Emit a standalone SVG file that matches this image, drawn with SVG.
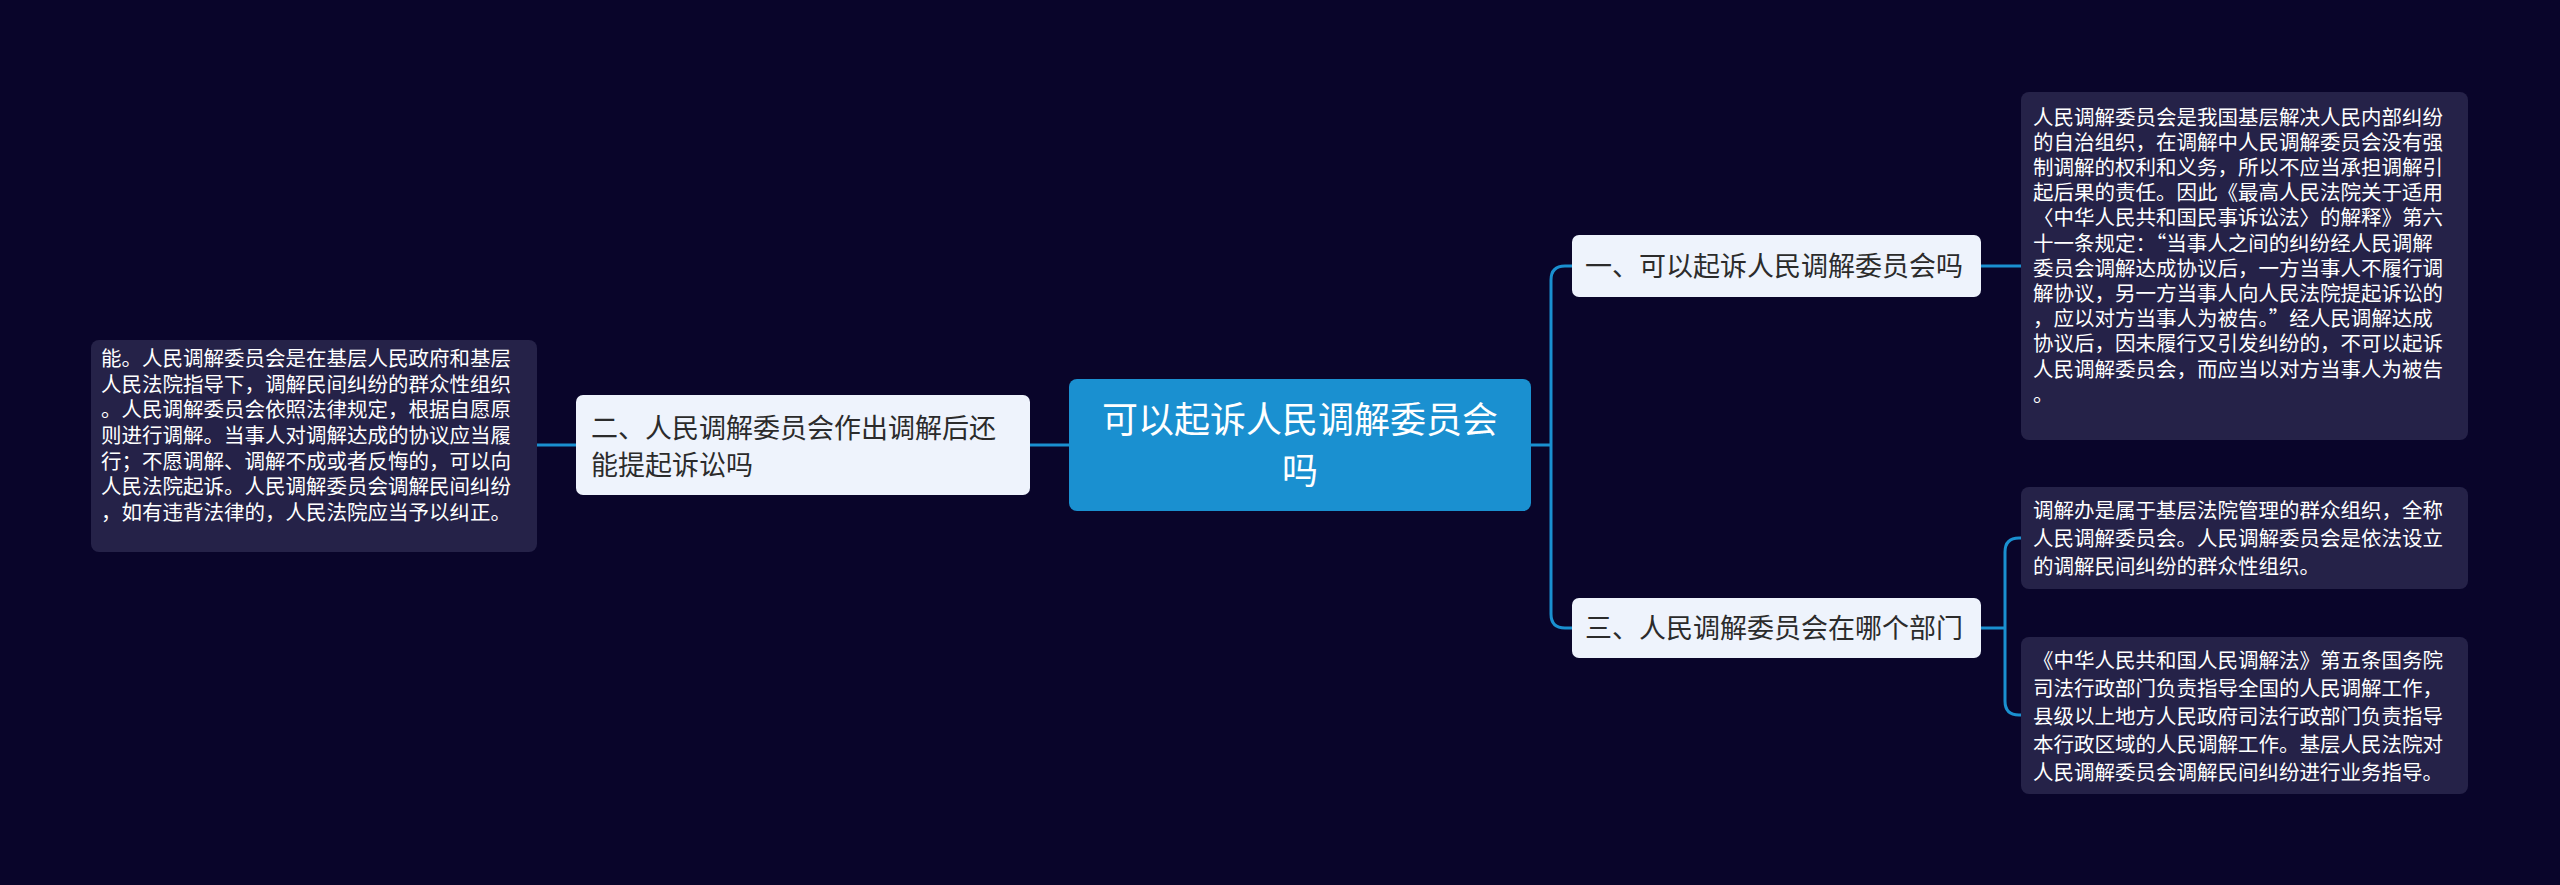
<svg xmlns="http://www.w3.org/2000/svg" width="2560" height="885" viewBox="0 0 2560 885">
<style>
.leaf{fill:#252248}
.br{fill:#eef3fc}
.lt{font-family:"Noto Sans CJK SC","Noto Sans",sans-serif;font-size:20.5px;fill:#ffffff}
.bt{font-family:"Noto Sans CJK SC","Noto Sans",sans-serif;font-size:27px;fill:#2b2b2b}
.rt{font-family:"Noto Sans CJK SC","Noto Sans",sans-serif;font-size:36px;fill:#ffffff}
.c{fill:none;stroke:#1a90d0;stroke-width:3}
</style>
<rect width="2560" height="885" fill="#09052a"/>
<g id="connectors">
<path class="c" d="M1531 445 H1551 M1551 445 V280 Q1551 266 1565 266 H1572 M1551 445 V614 Q1551 628 1565 628 H1572"/>
<path class="c" d="M1069 445 H1030 M576 445 H537"/>
<path class="c" d="M1981 266 H2021"/>
<path class="c" d="M1981 628 H2005 M2005 628 V552 Q2005 538 2019 538 H2021 M2005 628 V701 Q2005 715 2019 715 H2021"/>
</g>
<g id="root">
<rect x="1069" y="379" width="462" height="132" rx="8" fill="#1a90d0"/>
<text class="rt" x="1300" y="433" text-anchor="middle">可以起诉人民调解委员会</text>
<text class="rt" x="1300" y="484" text-anchor="middle">吗</text>
</g>
<g id="b1">
<rect class="br" x="1572" y="235" width="409" height="62" rx="7"/>
<text class="bt" x="1585" y="276">一、可以起诉人民调解委员会吗</text>
</g>
<g id="b2">
<rect class="br" x="576" y="395" width="454" height="100" rx="7"/>
<text class="bt" x="591" y="438">二、人民调解委员会作出调解后还</text>
<text class="bt" x="591" y="475">能提起诉讼吗</text>
</g>
<g id="b3">
<rect class="br" x="1572" y="598" width="409" height="60" rx="7"/>
<text class="bt" x="1585" y="638">三、人民调解委员会在哪个部门</text>
</g>
<g id="leaf1">
<rect class="leaf" x="2021" y="92" width="447" height="348" rx="8"/>
<text class="lt" x="2033" y="125">人民调解委员会是我国基层解决人民内部纠纷</text>
<text class="lt" x="2033" y="150">的自治组织，在调解中人民调解委员会没有强</text>
<text class="lt" x="2033" y="175">制调解的权利和义务，所以不应当承担调解引</text>
<text class="lt" x="2033" y="200">起后果的责任。因此《最高人民法院关于适用</text>
<text class="lt" x="2033" y="225">〈中华人民共和国民事诉讼法〉的解释》第六</text>
<text class="lt" x="2033" y="251">十一条规定：“当事人之间的纠纷经人民调解</text>
<text class="lt" x="2033" y="276">委员会调解达成协议后，一方当事人不履行调</text>
<text class="lt" x="2033" y="301">解协议，另一方当事人向人民法院提起诉讼的</text>
<text class="lt" x="2033" y="326">，应以对方当事人为被告。”经人民调解达成</text>
<text class="lt" x="2033" y="351">协议后，因未履行又引发纠纷的，不可以起诉</text>
<text class="lt" x="2033" y="377">人民调解委员会，而应当以对方当事人为被告</text>
<text class="lt" x="2033" y="402">。</text>
</g>
<g id="leaf2">
<rect class="leaf" x="91" y="340" width="446" height="212" rx="8"/>
<text class="lt" x="101" y="366">能。人民调解委员会是在基层人民政府和基层</text>
<text class="lt" x="101" y="392">人民法院指导下，调解民间纠纷的群众性组织</text>
<text class="lt" x="101" y="417">。人民调解委员会依照法律规定，根据自愿原</text>
<text class="lt" x="101" y="443">则进行调解。当事人对调解达成的协议应当履</text>
<text class="lt" x="101" y="469">行；不愿调解、调解不成或者反悔的，可以向</text>
<text class="lt" x="101" y="494">人民法院起诉。人民调解委员会调解民间纠纷</text>
<text class="lt" x="101" y="520">，如有违背法律的，人民法院应当予以纠正。</text>
</g>
<g id="leaf3">
<rect class="leaf" x="2021" y="487" width="447" height="102" rx="8"/>
<text class="lt" x="2033" y="518">调解办是属于基层法院管理的群众组织，全称</text>
<text class="lt" x="2033" y="546">人民调解委员会。人民调解委员会是依法设立</text>
<text class="lt" x="2033" y="574">的调解民间纠纷的群众性组织。</text>
</g>
<g id="leaf4">
<rect class="leaf" x="2021" y="637" width="447" height="157" rx="8"/>
<text class="lt" x="2033" y="668">《中华人民共和国人民调解法》第五条国务院</text>
<text class="lt" x="2033" y="696">司法行政部门负责指导全国的人民调解工作，</text>
<text class="lt" x="2033" y="724">县级以上地方人民政府司法行政部门负责指导</text>
<text class="lt" x="2033" y="752">本行政区域的人民调解工作。基层人民法院对</text>
<text class="lt" x="2033" y="780">人民调解委员会调解民间纠纷进行业务指导。</text>
</g>
</svg>
